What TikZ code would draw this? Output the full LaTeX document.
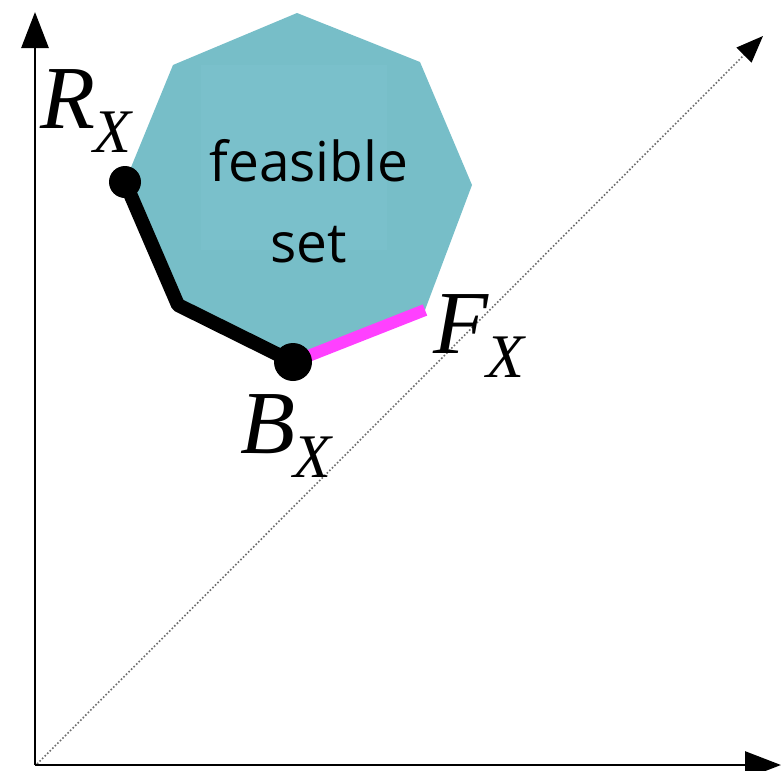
\documentclass[tikz,border=0pt]{standalone}
\usepackage{fontspec}
\newfontfamily\tms{Liberation Serif}
\newfontfamily\sns{Open Sans}
\usetikzlibrary{arrows.meta}
\definecolor{teal1}{RGB}{119,190,200}
\definecolor{teal2}{RGB}{122,192,203}
\definecolor{pinkx}{RGB}{255,64,255}
\definecolor{dotgray}{RGB}{110,110,110}
\newcommand{\mylbl}[2]{{\tms\itshape #1\kern-2pt\raisebox{-24pt}{\fontsize{62}{62}\selectfont #2}}}
\tikzset{
  axis/.style={line width=2.8pt,-{Triangle[length=36pt,width=27pt]}},
  diag/.style={dotgray,line width=1.6pt,dotted,-{Triangle[length=27pt,width=21pt,black]}},
  lbl/.style={inner sep=0pt,anchor=base west,font=\fontsize{90}{90}\selectfont},
  feas/.style={inner sep=0pt,anchor=base,font=\sns\fontsize{55}{60}\selectfont},
  pathblack/.style={line width=14pt,line join=round,line cap=butt},
  pathpink/.style={line width=12pt,pinkx,line cap=butt}
}
\begin{document}
\begin{tikzpicture}[x=1pt,y=-1pt]
\useasboundingbox (0,0) rectangle (782,771);
% coordinates
\coordinate (O) at (35,765);
\coordinate (Ytip) at (35,12);
\coordinate (Xtip) at (781,765);
\coordinate (Dtip) at (763,36);
\coordinate (Dstart) at (37,764);
\coordinate (Ptop) at (297,13);
\coordinate (Pur) at (420,62);
\coordinate (Pr) at (472,185);
\coordinate (Plr) at (425,310);
\coordinate (B) at (293,362);
\coordinate (Pll) at (178,305);
\coordinate (R) at (125,182);
\coordinate (Pul) at (173,65);
% feasible set
\fill[teal1] (Ptop) -- (Pur) -- (Pr) -- (Plr) -- (B) -- (Pll) -- (R) -- (Pul) -- cycle;
\fill[teal2] (201,65) rectangle (387,250);
\node[feas] (f1) at (309,181) {feasible};
\node[feas] (f2) at (309,262) {set};
% axes
\draw[diag] (Dstart) -- (Dtip);
\draw[axis] (O) -- (Ytip);
\draw[axis] (O) -- (Xtip);
% boundary paths
\draw[pathpink] (B) -- (Plr);
\draw[pathblack] (R) -- (Pll) -- (B);
\fill (R) circle (16pt);
\fill (B) circle (19pt);
% labels
\node[lbl] (lR) at (40,128) {\mylbl{R}{X}};
\node[lbl] (lB) at (240,453) {\mylbl{B}{X}};
\node[lbl] (lF) at (433,353) {\mylbl{F}{X}};
\end{tikzpicture}
\end{document}
